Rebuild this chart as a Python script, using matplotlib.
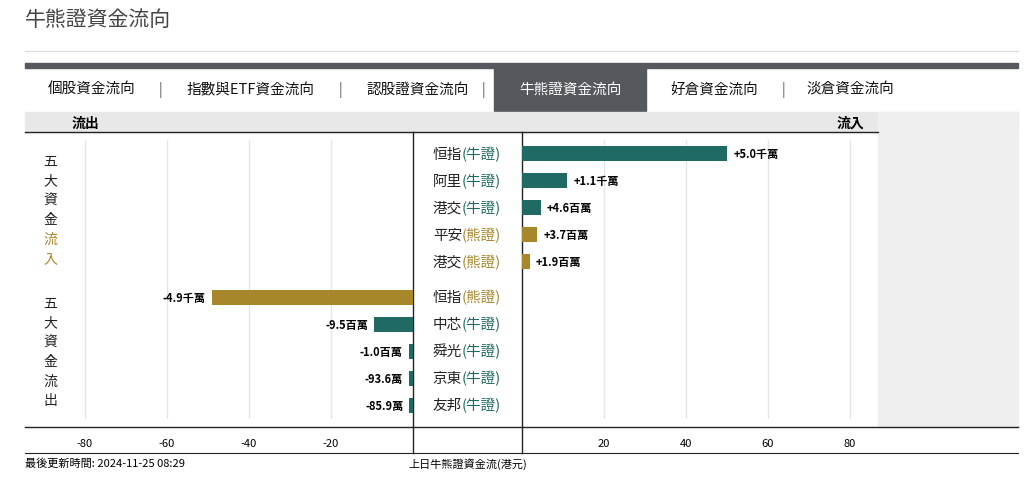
import matplotlib.pyplot as plt
from matplotlib.patches import Rectangle

plt.rcParams["font.family"] = ["Noto Sans CJK TC", "Noto Sans CJK JP", "Noto Sans CJK SC", "DejaVu Sans"]
plt.rcParams["axes.unicode_minus"] = False

TEAL = "#1f6b63"
GOLD = "#a8862a"

# data (millions HKD)
in_names = ["恒指", "阿里", "港交", "平安", "港交"]
in_types = ["牛證", "牛證", "牛證", "熊證", "熊證"]
in_values = [50.0, 11.0, 4.6, 3.7, 1.9]
in_labels = ["+5.0千萬", "+1.1千萬", "+4.6百萬", "+3.7百萬", "+1.9百萬"]

out_names = ["恒指", "中芯", "舜光", "京東", "友邦"]
out_types = ["熊證", "牛證", "牛證", "牛證", "牛證"]
out_values = [-49.0, -9.5, -1.0, -0.936, -0.859]
out_labels = ["-4.9千萬", "-9.5百萬", "-1.0百萬", "-93.6萬", "-85.9萬"]

tabs = ["個股資金流向", "指數與ETF資金流向", "認股證資金流向", "牛熊證資金流向", "好倉資金流向", "淡倉資金流向"]
tab_x = [92, 251, 418, 570, 714, 850]

W, H = 1036, 502
fig = plt.figure(figsize=(W / 100, H / 100), dpi=100)
bg = fig.add_axes([0, 0, 1, 1])
bg.set_xlim(0, W)
bg.set_ylim(H, 0)
bg.axis("off")

bg.text(25, 20, "牛熊證資金流向", fontsize=15, color="#444444", va="center")
bg.plot([25, 1018], [52, 52], color="#dddddd", lw=1)
bg.add_patch(Rectangle((25, 64), 993, 5, color="#55585c"))
bg.add_patch(Rectangle((494, 69), 152, 43, color="#55585c"))
for i, (t, x) in enumerate(zip(tabs, tab_x)):
    bg.text(x, 90, t, fontsize=10.5, ha="center", va="center",
            color="white" if i == 3 else "#111111")
for x in [160, 340, 483, 783]:
    bg.text(x, 90, "|", fontsize=10, ha="center", va="center", color="#555555")
bg.add_patch(Rectangle((25, 113), 993, 20, color="#e8e8e8"))
bg.add_patch(Rectangle((878, 113), 140, 315, color="#efefef"))
bg.text(85, 124, "流出", fontsize=10, ha="center", va="center", weight="bold")
bg.text(850, 124, "流入", fontsize=10, ha="center", va="center", weight="bold")
bg.plot([25, 878], [133, 133], color="#222222", lw=1)
bg.plot([25, 1018], [428, 428], color="#222222", lw=1)
bg.plot([25, 1018], [454, 454], color="#222222", lw=0.8)
bg.plot([413, 413], [133, 454], color="#222222", lw=1)
bg.plot([522, 522], [133, 454], color="#222222", lw=1)

for i, ch in enumerate("五大資金流入"):
    bg.text(50, 162 + i * 19.5, ch, fontsize=10, ha="center", va="center",
            color=GOLD if ch in "流入" else "#222222")
for i, ch in enumerate("五大資金流出"):
    bg.text(50, 304 + i * 19.5, ch, fontsize=10, ha="center", va="center", color="#222222")

rows_in = [155, 182, 209, 236, 263]
rows_out = [298, 325, 352, 379, 406]
for names, types, rows in [(in_names, in_types, rows_in), (out_names, out_types, rows_out)]:
    for n, t, y in zip(names, types, rows):
        bg.text(462, y, n, fontsize=10.5, ha="right", va="center", color="#222222")
        bg.text(462, y, "(" + t + ")", fontsize=10.5, ha="left", va="center",
                color=TEAL if t == "牛證" else GOLD)

bg.text(25, 464, "最後更新時間: 2024-11-25 08:29", fontsize=8, va="center")
bg.text(468, 464, "上日牛熊證資金流(港元)", fontsize=8, ha="center", va="center")

# data axes: pixels -> figure fraction
def ax_at(x0, x1, y0, y1):
    return fig.add_axes([x0 / W, 1 - y1 / H, (x1 - x0) / W, (y1 - y0) / H])

px = 4.1
left = ax_at(25, 413, 141, 420)
right = ax_at(522, 878, 141, 420)
left.set_xlim(-388 / px, 0)
right.set_xlim(0, 356 / px)
for ax in (left, right):
    ax.set_ylim(419.5, 141.5)
    ax.patch.set_alpha(0)
    for s in ax.spines.values():
        s.set_visible(False)
    ax.set_yticks([])
    ax.tick_params(axis="x", length=0, labelsize=8, pad=14)
    ax.grid(axis="x", color="#e6e6e6", lw=1)
    ax.set_axisbelow(True)
left.set_xticks([-80, -60, -40, -20])
right.set_xticks([20, 40, 60, 80])

for v, t, y, lab in zip(in_values, in_types, rows_in, in_labels):
    right.barh(y, v, height=15, color=TEAL if t == "牛證" else GOLD)
    right.text(v + 1.5, y, lab, fontsize=8, weight="bold", va="center", ha="left")
for v, t, y, lab in zip(out_values, out_types, rows_out, out_labels):
    left.barh(y, v, height=15, color=TEAL if t == "牛證" else GOLD)
    left.text(v - 1.5, y, lab, fontsize=8, weight="bold", va="center", ha="right")

fig.savefig("out.png", dpi=100)
